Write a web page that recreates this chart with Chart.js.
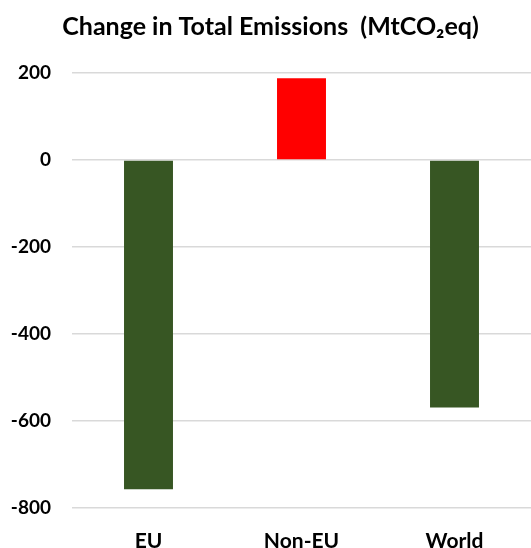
<!DOCTYPE html>
<html>
<head>
<meta charset="utf-8">
<script src="https://cdn.jsdelivr.net/npm/chart.js@4.4.1/dist/chart.umd.min.js"></script>
<style>
  html, body { margin: 0; padding: 0; background: #fff; }
  #wrap { width: 531px; height: 548px; }
</style>
</head>
<body>
<div id="wrap"><canvas id="emissions"></canvas></div>
<script>
const regions = ['EU', 'Non-EU', 'World'];
const emissionChange = [-757, 188, -569];
const barColors = ['#375623', '#ff0000', '#375623'];

const yMin = -800;
const yMax = 200;
const yStep = 200;

const ctx = document.getElementById('emissions');

new Chart(ctx, {
    type: 'bar',
    data: {
        labels: regions,
        datasets: [{
            data: emissionChange,
            backgroundColor: barColors,
            borderWidth: 0,
            barPercentage: 0.32,
            categoryPercentage: 1
        }]
    },
    options: {
        responsive: true,
        maintainAspectRatio: false,
        animation: false,
        layout: {
            padding: { left: 10, right: 0, top: 6, bottom: 0 }
        },
        plugins: {
            legend: { display: false },
            tooltip: { enabled: false },
            title: {
                display: true,
                text: 'Change in Total Emissions  (MtCO\u2082eq)',
                color: '#000',
                font: { family: 'Lato', size: 25, weight: 'bold' },
                padding: { top: 6, bottom: 31 }
            }
        },
        scales: {
            x: {
                border: { display: false },
                grid: { display: false },
                afterFit: (scale) => { scale.height = 40; },
                ticks: {
                    color: '#000',
                    padding: 13,
                    font: { family: 'Lato', size: 21, weight: 'bold' }
                }
            },
            y: {
                min: yMin,
                max: yMax,
                border: { display: false },
                afterFit: (scale) => { scale.width = 62; },
                grid: {
                    color: '#d9d9d9',
                    lineWidth: 1.5,
                    drawTicks: false
                },
                ticks: {
                    stepSize: yStep,
                    color: '#000',
                    padding: 21,
                    font: { family: 'Lato', size: 19, weight: 'bold' }
                }
            }
        }
    }
});
</script>
</body>
</html>
